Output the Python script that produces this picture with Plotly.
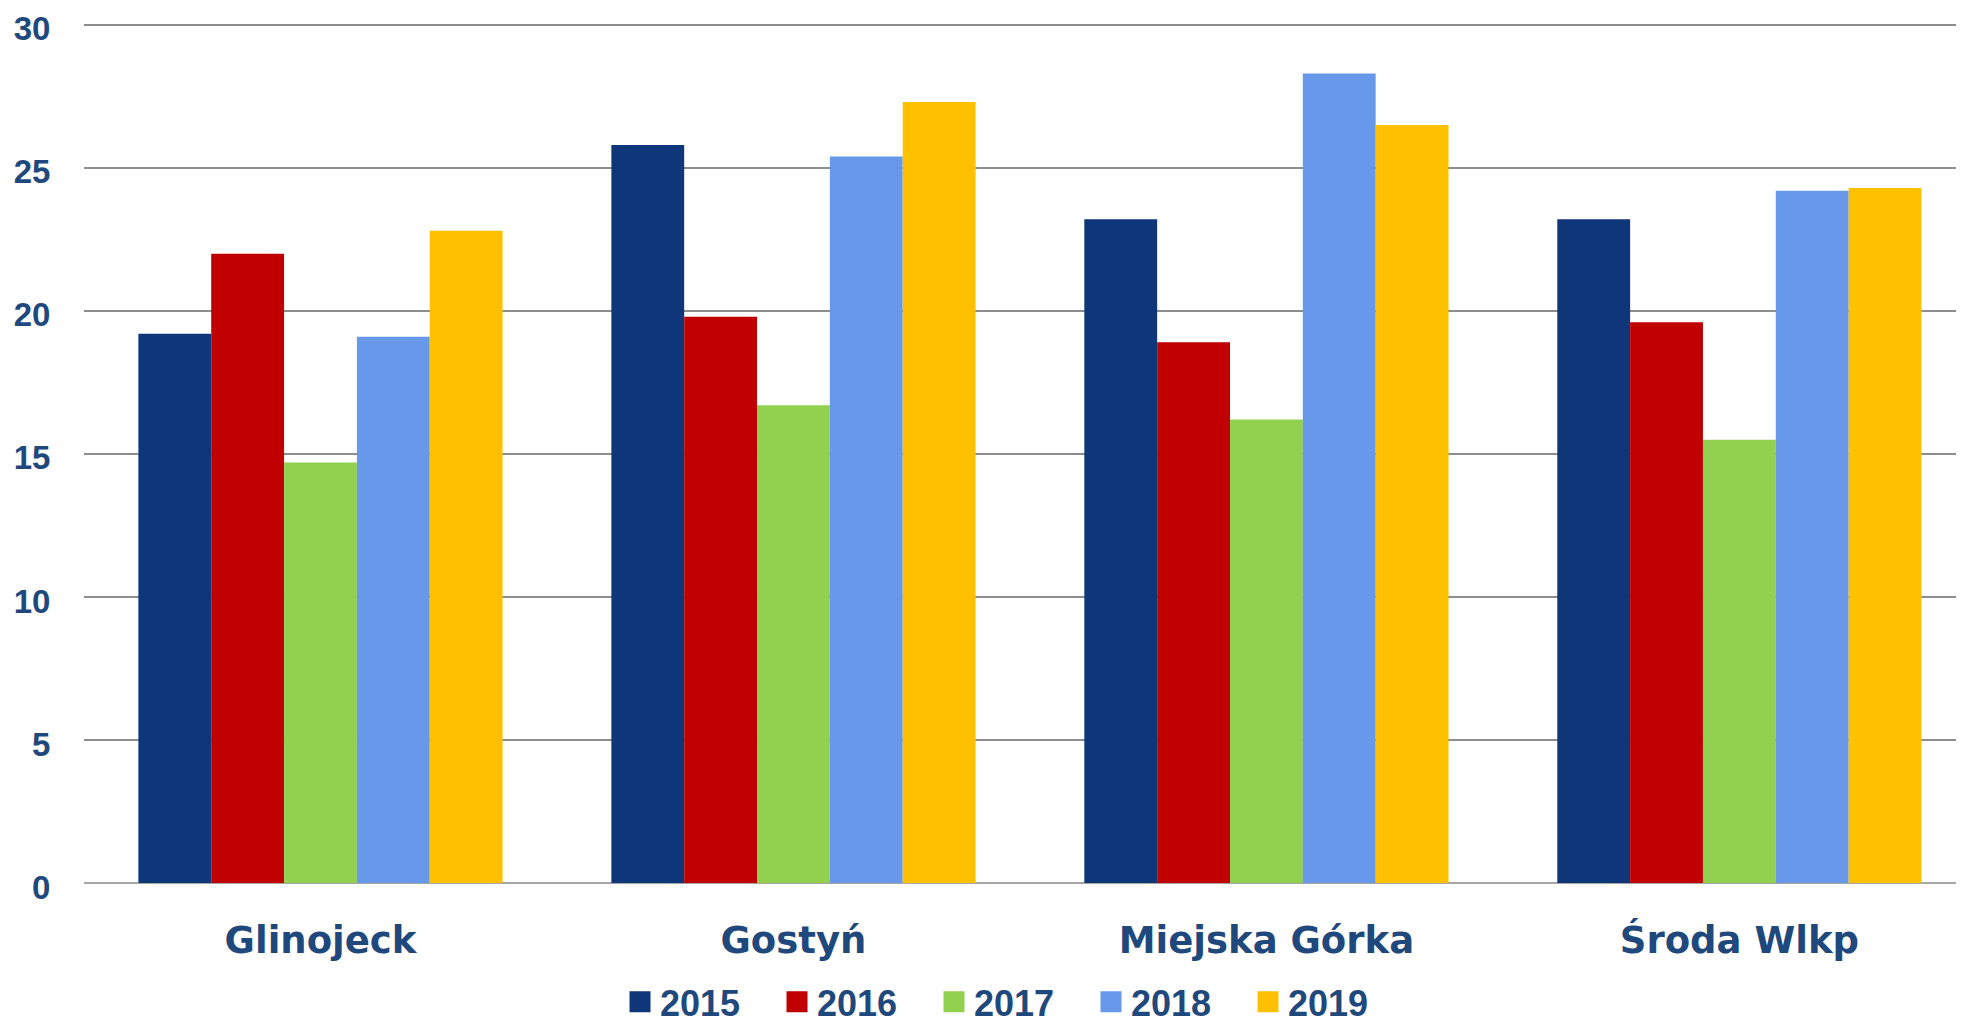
import plotly.graph_objects as go

categories = ["Glinojeck", "Gostyń", "Miejska Górka", "Środa Wlkp"]
years = ["2015", "2016", "2017", "2018", "2019"]
values = {
    "2015": [19.2, 25.8, 23.2, 23.2],
    "2016": [22.0, 19.8, 18.9, 19.6],
    "2017": [14.7, 16.7, 16.2, 15.5],
    "2018": [19.1, 25.4, 28.3, 24.2],
    "2019": [22.8, 27.3, 26.5, 24.3],
}
colors = {
    "2015": "#10367A",
    "2016": "#C00000",
    "2017": "#92D050",
    "2018": "#6898EA",
    "2019": "#FFC000",
}
y_ticks = [0, 5, 10, 15, 20, 25, 30]

TEXT = "#1F497D"
FONT = "Liberation Sans, Arial, sans-serif"
CAT_FONT = "DejaVu Sans, sans-serif"

fig = go.Figure()
for yr in years:
    fig.add_trace(go.Bar(
        x=categories, y=values[yr], name=yr,
        marker=dict(color=colors[yr], line=dict(width=0)),
        showlegend=False, legendgroup=yr,
    ))
# legend entries (larger square swatches)
for yr in years:
    fig.add_trace(go.Scatter(
        x=[None], y=[None], name=yr, mode="markers", legendgroup=yr,
        marker=dict(symbol="square", size=16, color=colors[yr],
                    line=dict(color=colors[yr], width=5)),
        hoverinfo="skip",
    ))

# page body has an 8px margin: size the figure so it fits the window
fig.update_layout(
    width=1948, height=1015,
    barmode="group", bargap=0.23, bargroupgap=0,
    plot_bgcolor="white", paper_bgcolor="white",
    margin=dict(l=76, r=0, t=14, b=140, autoexpand=False),
    font=dict(family=FONT, color=TEXT),
    showlegend=True,
    legend=dict(
        orientation="h", x=0.496, xanchor="center", y=-0.138, yanchor="middle",
        font=dict(family=FONT, size=36, color=TEXT, weight="bold"),
        entrywidth=112, entrywidthmode="pixels",
        traceorder="normal",
    ),
)
fig.update_xaxes(
    range=[-0.5, 3.458], automargin=False,
    showgrid=False, showline=False, zeroline=False,
    ticks="outside", ticklen=25, tickcolor="rgba(0,0,0,0)",
    tickfont=dict(family=CAT_FONT, size=37, color=TEXT, weight="bold"),
)
fig.update_yaxes(
    range=[0, 30.1], tickvals=y_ticks, automargin=False,
    ticklabeloverflow="allow", ticklabelshift=4,
    showgrid=True, gridcolor="#8E8E8E", gridwidth=2,
    zeroline=True, zerolinecolor="#A6A6A6", zerolinewidth=2,
    showline=False,
    ticks="outside", ticklen=26, tickcolor="rgba(0,0,0,0)",
    tickfont=dict(family=FONT, size=33, color=TEXT, weight="bold"),
)

fig.write_html("out.html")
